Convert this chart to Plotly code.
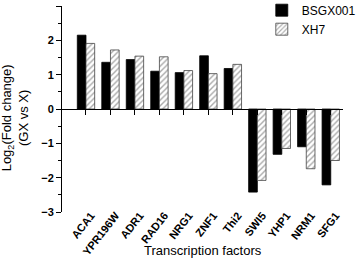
import plotly.graph_objects as go

categories = ["ACA1", "YPR196W", "ADR1", "RAD16", "NRG1", "ZNF1", "Thi2",
              "SWI5", "YHP1", "NRM1", "SFG1"]
bsgx001 = [2.15, 1.36, 1.44, 1.10, 1.06, 1.55, 1.18, -2.42, -1.32, -1.10, -2.21]
xh7 = [1.91, 1.72, 1.54, 1.52, 1.12, 1.03, 1.30, -2.08, -1.15, -1.74, -1.50]
y_ticks = [-3, -2, -1, 0, 1, 2, 3]

FONT = "Arial, Liberation Sans, sans-serif"

fig = go.Figure()
fig.add_trace(go.Bar(
    x=categories, y=bsgx001, name="BSGX001",
    marker=dict(color="black", line=dict(color="black", width=0.8)),
))
fig.add_trace(go.Bar(
    x=categories, y=xh7, name="XH7",
    marker=dict(color="white", line=dict(color="#444", width=0.8),
                pattern=dict(shape="/", fgcolor="#555", bgcolor="white",
                             size=4, solidity=0.35)),
))
# invisible trace to carry the zero-line axis
fig.add_trace(go.Scatter(x=categories, y=[0] * len(categories), xaxis="x2",
                         mode="markers", marker=dict(opacity=0),
                         showlegend=False, hoverinfo="skip"))

fig.update_layout(
    width=360, height=266,
    margin=dict(l=62, r=17, t=6, b=54, autoexpand=False),
    paper_bgcolor="white", plot_bgcolor="white",
    font=dict(family=FONT, color="black"),
    barmode="group", bargap=0.29, bargroupgap=0,
    showlegend=True,
    legend=dict(x=0.711, xanchor="left", y=1.05, yanchor="top",
                font=dict(size=12, family=FONT), bgcolor="rgba(0,0,0,0)",
                tracegroupgap=0, itemwidth=30),
    xaxis=dict(
        type="category", range=[-0.98, 10.5],
        showline=False, ticks="", showgrid=False, zeroline=False,
        tickangle=-52, tickfont=dict(size=11, family=FONT, weight="bold"),
        ticklabelstandoff=-6, ticklabelshift=5,
    ),
    xaxis2=dict(
        type="category", matches="x", overlaying="x", anchor="free",
        position=0.5, showline=True, linecolor="black", linewidth=1,
        ticks="outside", ticklen=5, tickcolor="black", showticklabels=False,
        showgrid=False, zeroline=False,
    ),
    yaxis=dict(
        range=[-3, 3], tickvals=y_ticks, showline=True, linecolor="black",
        linewidth=1, ticks="outside", ticklen=5, tickcolor="black",
        showgrid=False, zeroline=False,
        tickfont=dict(size=11, family=FONT, weight="bold"),
        minor=dict(dtick=0.5, ticks="outside", ticklen=3, tickcolor="black"),
    ),
    annotations=[
        dict(text="Log<sub>2</sub>(Fold change)<br>(GX vs X)",
             xref="paper", yref="paper", x=-0.167, y=0.455,
             xanchor="center", yanchor="middle",
             textangle=-90, showarrow=False, font=dict(size=13, family=FONT)),
        dict(text="Transcription factors",
             xref="paper", yref="paper", x=0.5, y=-0.185,
             xanchor="center", yanchor="middle",
             showarrow=False, font=dict(size=13, family=FONT)),
    ],
)

fig.write_html("out.html",
               config={"displayModeBar": False},
               post_script="document.body.style.margin='0';")
